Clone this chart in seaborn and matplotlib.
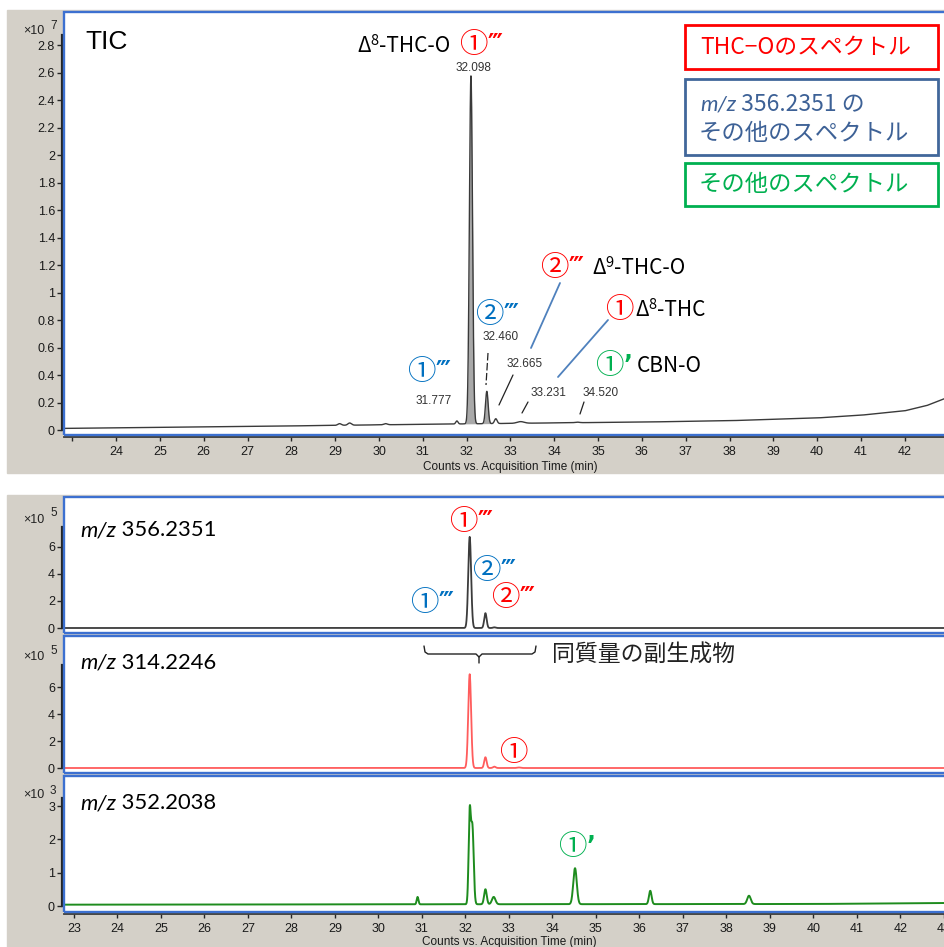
import numpy as np
import matplotlib
matplotlib.use("Agg")
import matplotlib.pyplot as plt
from matplotlib.patches import Rectangle
from matplotlib.lines import Line2D
from matplotlib.text import Annotation
import seaborn as sns

sns.set_theme(style="white")
plt.rcParams["font.family"] = ["Liberation Sans", "DejaVu Sans"]

W, H = 944, 947
JP = ["Noto Sans CJK JP", "DejaVu Sans"]
LAT = ["Lato", "DejaVu Sans"]

# ---------------- data ----------------
time_ticks = list(range(23, 44))

# TIC, x10^7 counts
tic_base_time = [22.8, 24.0, 26.0, 28.0, 30.0, 32.0, 34.0, 36.0, 38.0, 40.0, 41.0, 42.0, 42.5, 43.0]
tic_base_level = [0.012, 0.016, 0.022, 0.030, 0.038, 0.045, 0.052, 0.058, 0.068, 0.088, 0.108, 0.140, 0.178, 0.240]
tic_peak_time = [29.10, 29.33, 30.15, 31.777, 32.098, 32.460, 32.665, 33.231, 34.520]
tic_peak_height = [0.012, 0.016, 0.008, 0.022, 2.53, 0.235, 0.035, 0.012, 0.004]
tic_peak_sigma = [0.04, 0.04, 0.04, 0.025, 0.035, 0.030, 0.030, 0.080, 0.050]
tic_yticks = [0, 0.2, 0.4, 0.6, 0.8, 1, 1.2, 1.4, 1.6, 1.8, 2, 2.2, 2.4, 2.6, 2.8]

# m/z 356.2351 EIC, x10^5 counts
mz356_peak_time = [32.098, 32.460, 32.665]
mz356_peak_height = [6.75, 1.10, 0.05]
mz356_peak_sigma = [0.033, 0.028, 0.03]

# m/z 314.2246 EIC, x10^5 counts
mz314_peak_time = [32.098, 32.460, 32.665, 33.231]
mz314_peak_height = [6.95, 0.80, 0.10, 0.04]
mz314_peak_sigma = [0.033, 0.028, 0.03, 0.04]

# m/z 352.2038 EIC, x10^3 counts
mz352_base_time = [22.77, 30.0, 40.0, 43.05]
mz352_base_level = [0.04, 0.05, 0.06, 0.09]
mz352_peak_time = [30.90, 32.098, 32.16, 32.460, 32.650, 34.520, 36.250, 38.520]
mz352_peak_height = [0.22, 2.65, 2.30, 0.45, 0.22, 1.08, 0.40, 0.25]
mz352_peak_sigma = [0.02, 0.025, 0.03, 0.03, 0.04, 0.04, 0.03, 0.04]

# TIC retention-time labels
tic_labelled_time = [31.777, 32.098, 32.460, 32.665, 33.231, 34.520]


def chromatogram(t, base_t, base_y, rts, heights, sigmas):
    y = np.interp(t, base_t, base_y)
    for rt, h, s in zip(rts, heights, sigmas):
        y = y + h * np.exp(-0.5 * ((t - rt) / s) ** 2)
    return y


t = np.linspace(22.7, 43.1, 8000)
tic = chromatogram(t, tic_base_time, tic_base_level, tic_peak_time, tic_peak_height, tic_peak_sigma)
eic356 = chromatogram(t, [22.7, 43.1], [0.0, 0.0], mz356_peak_time, mz356_peak_height, mz356_peak_sigma)
eic314 = chromatogram(t, [22.7, 43.1], [0.0, 0.0], mz314_peak_time, mz314_peak_height, mz314_peak_sigma)
eic352 = chromatogram(t, mz352_base_time, mz352_base_level, mz352_peak_time, mz352_peak_height, mz352_peak_sigma)

# ---------------- figure ----------------
fig = plt.figure(figsize=(W / 100, H / 100), dpi=100)
fig.patch.set_facecolor("white")

GRAY = "#d4d0c8"
FRAME = "#3c70d0"
DARK = "#262626"


def fx(x):
    return x / W


def fy(y):
    return 1 - y / H


fig.patches.append(Rectangle((fx(7), fy(473)), (W - 7) / W, (473 - 10) / H,
                             transform=fig.transFigure, color=GRAY, zorder=-10))
fig.patches.append(Rectangle((fx(7), fy(H + 2)), (W - 7) / W, (H + 2 - 495) / H,
                             transform=fig.transFigure, color=GRAY, zorder=-10))


def make_axes(left, top, right, bottom):
    ax = fig.add_axes([fx(left), fy(bottom), (right - left) / W, (bottom - top) / H])
    ax.set_facecolor("white")
    for side in ("top", "right"):
        ax.spines[side].set_visible(False)
    ax.spines["left"].set_color(DARK)
    ax.spines["left"].set_linewidth(1.6)
    ax.spines["left"].set_position(("outward", 1.5))
    ax.spines["bottom"].set_color("#3a3a3a")
    ax.spines["bottom"].set_linewidth(1.3)
    ax.spines["bottom"].set_position(("outward", 1.5))
    ax.add_patch(Rectangle((0, 0), 1, 1, transform=ax.transAxes, fill=False,
                           ec=FRAME, lw=1.7, clip_on=False, zorder=20))
    ax.tick_params(axis="y", direction="out", length=3.6, width=1.0, color=DARK,
                   labelsize=9, pad=1.4, labelcolor="#1a1a1a", left=True)
    ax.tick_params(axis="x", direction="out", length=3.2, width=1.0, color=DARK,
                   labelsize=9, pad=3.5, labelcolor="#1a1a1a", bottom=True)
    ax.grid(False)
    return ax


def y_axis(ax, ticks, top_bound, lim):
    ax.set_yticks(ticks)
    ax.set_yticklabels([f"{v:g}" for v in ticks])
    ax.set_ylim(*lim)
    ax.spines["left"].set_bounds(0, top_bound)


# ---- TIC ----
ax0 = make_axes(64, 12, 946, 435)
sns.lineplot(x=t, y=tic, ax=ax0, color="#3a3a3a", lw=1.0, estimator=None)
fill_mask = (t > 31.93) & (t < 32.60)
ax0.fill_between(t[fill_mask], np.interp(t[fill_mask], tic_base_time, tic_base_level),
                 tic[fill_mask], color="#a9a9a9", lw=0, zorder=1)
top_ticks = [v for v in time_ticks if v <= 42]
ax0.set_xticks(top_ticks)
ax0.set_xticklabels(["" if v == 23 else str(v) for v in top_ticks])
ax0.set_xlim(22.81, 42.94)
y_axis(ax0, tic_yticks, 2.87, (-0.036, 3.04))

# ---- EIC panels ----
ax1 = make_axes(64, 497, 946, 633)
sns.lineplot(x=t, y=eic356, ax=ax1, color="#3c3c3c", lw=1.3, estimator=None)
ax2 = make_axes(64, 636, 946, 773)
sns.lineplot(x=t, y=eic314, ax=ax2, color="#ff5c5c", lw=1.3, estimator=None)
ax3 = make_axes(64, 776, 946, 912)
sns.lineplot(x=t, y=eic352, ax=ax3, color="#1e8c1e", lw=1.4, estimator=None)

for ax in (ax1, ax2):
    ax.set_xticks([])
    ax.spines["bottom"].set_visible(False)
ax3.set_xticks(time_ticks)
ax3.set_xticklabels([str(v) for v in time_ticks])
for ax in (ax1, ax2, ax3):
    ax.set_xlim(22.77, 43.05)
y_axis(ax1, [0, 2, 4, 6], 7.5, (-0.37, 9.7))
y_axis(ax2, [0, 2, 4, 6], 7.6, (-0.37, 9.78))
y_axis(ax3, [0, 1, 2, 3], 3.25, (-0.18, 3.9))

for ax in (ax0, ax1, ax2, ax3):
    ax.set_xlabel("")
    ax.set_ylabel("")

# ---------------- text helpers ----------------
def ftext(x, y, s, ha="left", va="center", **kw):
    return fig.text(fx(x), fy(y), s, ha=ha, va=va, **kw)


def chain(x, y, parts):
    s0, kw0 = parts[0]
    base = ftext(x, y, s0, **kw0)
    prev = base
    for s, kw in parts[1:]:
        kw = dict(kw)
        dx = kw.pop("dx", 0)
        dy = kw.pop("dy", 0)
        ay = kw.pop("ay", 0.0)
        a = Annotation(s, xy=(1, ay), xycoords=(prev, base), xytext=(dx, -dy),
                       textcoords="offset pixels", ha="left", va="bottom",
                       annotation_clip=False, **kw)
        fig.add_artist(a)
        prev = a
    return prev


def fline(pts, color, lw, **kw):
    xs = [fx(p[0]) for p in pts]
    ys = [fy(p[1]) for p in pts]
    fig.add_artist(Line2D(xs, ys, transform=fig.transFigure, color=color, lw=lw, **kw))


RED = "#ff0000"
BLUE_C = "#0070c0"
GREEN_C = "#00b050"
NUM = "#333333"

circ = dict(fontsize=20.5, family=JP)
prime = dict(fontsize=17, family=["DejaVu Sans"], fontweight="bold", dx=0, ay=0.12)


def circled(x, y, digit, primes, color):
    parts = [(digit, dict(circ, color=color))]
    if primes:
        parts.append((primes, dict(prime, color=color)))
    return chain(x, y, parts)


# exponent labels
for (yb, ys_, e) in [(31, 26, "7"), (520, 513, "5"), (657, 651, "5"), (795, 791, "3")]:
    ftext(23, yb, "×10", fontsize=9, color="#222222")
    ftext(50, ys_, e, fontsize=8.5, color="#222222")

# ---- TIC annotations ----
ftext(85, 42, "TIC", fontsize=19, color="black")

lab = dict(fontsize=15, family=JP, color="black")
sup = dict(fontsize=10.5, family=JP, color="black")

chain(357, 46, [("Δ", lab), ("8", dict(sup, ay=0.42)), ("-THC-O", lab)])
circled(459, 45, "①", "‴", RED)
circled(540, 268, "②", "‴", RED)
chain(592, 268, [("Δ", lab), ("9", dict(sup, ay=0.42)), ("-THC-O", lab)])
circled(605, 310, "①", "", RED)
chain(635, 310, [("Δ", lab), ("8", dict(sup, ay=0.42)), ("-THC", lab)])
circled(595, 366, "①", "’", GREEN_C)
chain(637, 366, [("CBN-O", lab)])
circled(475, 315, "②", "‴", BLUE_C)
circled(407, 372, "①", "‴", BLUE_C)

tic_label_pos = {31.777: (434, 401), 32.098: (473, 68), 32.460: (501, 337),
                 32.665: (525, 364), 33.231: (548, 393), 34.520: (601, 393)}
for rt in tic_labelled_time:
    px, py = tic_label_pos[rt]
    ftext(px, py, f"{rt:.3f}", ha="center", fontsize=8.5, color=NUM)

fline([(488, 353), (486, 385)], "#222222", 0.9, ls=(0, (6, 2)))
fline([(513, 375), (499, 405)], "#222222", 0.9)
fline([(528, 402), (522, 413)], "#222222", 0.9)
fline([(584, 402), (580, 414)], "#222222", 0.9)
fline([(560, 283), (531, 348)], "#4f81bd", 1.3)
fline([(608, 320), (558, 377)], "#4f81bd", 1.3)

# ---- legend boxes ----
for (x0, y0, x1, y1, c) in [(685, 25, 938, 69, RED), (685, 79, 938, 155, "#41679a"),
                            (685, 163, 938, 206, GREEN_C)]:
    fig.patches.append(Rectangle((fx(x0), fy(y1)), (x1 - x0) / W, (y1 - y0) / H,
                                 transform=fig.transFigure, fill=False, ec=c, lw=2.0, zorder=30))
ftext(700, 47, "THC−Oのスペクトル", fontsize=16.4, family=JP, color=RED)
chain(700, 105, [("m/z", dict(fontsize=16, family=LAT, style="italic", color="#3d6196")),
                 (" 356.2351 の", dict(fontsize=16.5, family=JP, color="#3d6196"))])
ftext(699, 133, "その他のスペクトル", fontsize=16.8, family=JP, color="#3d6196")
ftext(699, 184, "その他のスペクトル", fontsize=16.8, family=JP, color=GREEN_C)

# ---- EIC annotations ----
mz_kw = dict(fontsize=15.8, family=LAT, color="black")
for (yy, mass) in [(530, "356.2351"), (663, "314.2246"), (803, "352.2038")]:
    chain(80, yy, [("m/z", dict(mz_kw, style="italic")), (" " + mass, mz_kw)])

circled(449, 522, "①", "‴", RED)
circled(472, 571, "②", "‴", BLUE_C)
circled(410, 603, "①", "‴", BLUE_C)
circled(491, 598, "②", "‴", RED)

fline([(424, 646), (425, 652), (428, 654), (476, 654), (479, 657), (479, 663)], "#222222", 1.0)
fline([(479, 657), (482, 654), (532, 654), (535, 652), (536, 646)], "#222222", 1.0)
ftext(552, 655, "同質量の副生成物", fontsize=16.5, family=JP, color="#222222")
circled(499, 753, "①", "", RED)
circled(558, 847, "①", "’", GREEN_C)

# axis titles
ftext(510, 467, "Counts vs. Acquisition Time (min)", ha="center", fontsize=8.5, color="#1a1a1a")
ftext(509, 942, "Counts vs. Acquisition Time (min)", ha="center", fontsize=8.5, color="#1a1a1a")

fig.savefig("out.png", dpi=100, facecolor="white")
